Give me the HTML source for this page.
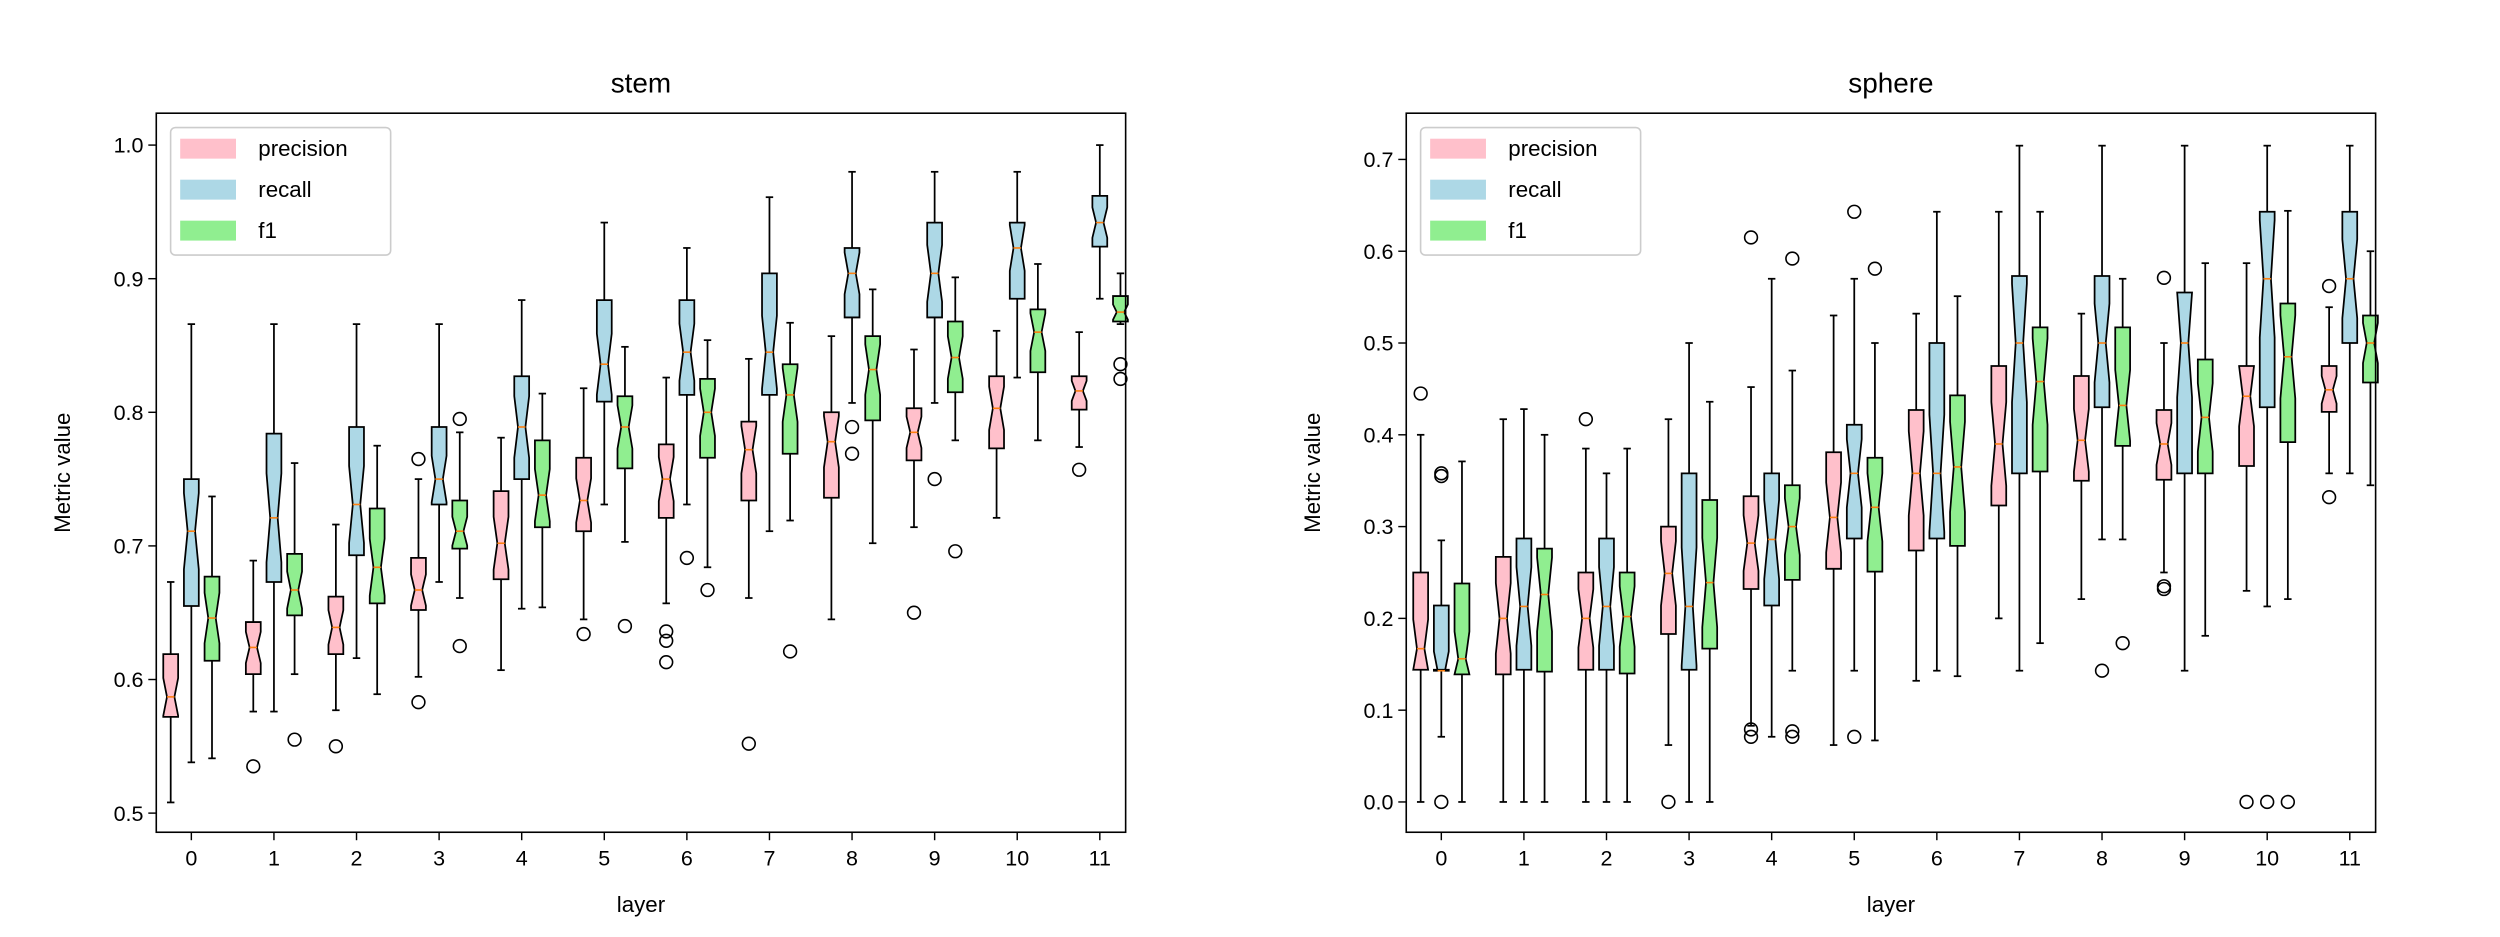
<!DOCTYPE html>
<html><head><meta charset="utf-8"><style>
html,body{margin:0;padding:0;background:#fff;}
svg{display:block;font-family:"Liberation Sans","DejaVu Sans",sans-serif;}
</style></head><body>
<svg id="fig" width="2500" height="937" viewBox="0 0 1568 587.7" xmlns="http://www.w3.org/2000/svg">
<rect width="1568" height="587.7" fill="#fff"/>
</svg>
<script>
// ---- data: [whiskerLow, q1, median, q3, whiskerHigh] per layer ----
const layers = [0,1,2,3,4,5,6,7,8,9,10,11];
const metricNames = ["precision","recall","f1"];
const stemPrecision = [[0.508,0.572,0.587,0.619,0.673],[0.576,0.604,0.624,0.643,0.689],[0.577,0.619,0.639,0.662,0.716],[0.602,0.652,0.667,0.691,0.75],[0.607,0.675,0.702,0.741,0.781],[0.645,0.711,0.734,0.766,0.818],[0.657,0.721,0.75,0.776,0.826],[0.661,0.734,0.772,0.793,0.84],[0.645,0.736,0.778,0.8,0.857],[0.714,0.764,0.785,0.803,0.847],[0.721,0.773,0.803,0.827,0.861],[0.774,0.802,0.816,0.827,0.86]];
const stemRecall = [[0.538,0.655,0.711,0.75,0.866],[0.576,0.673,0.721,0.784,0.866],[0.616,0.693,0.731,0.789,0.866],[0.673,0.731,0.75,0.789,0.866],[0.653,0.75,0.789,0.827,0.884],[0.731,0.808,0.836,0.884,0.942],[0.731,0.813,0.845,0.884,0.923],[0.711,0.813,0.845,0.904,0.961],[0.807,0.871,0.904,0.923,0.98],[0.807,0.871,0.904,0.942,0.98],[0.826,0.885,0.923,0.942,0.98],[0.885,0.924,0.942,0.962,1.0]];
const stemF1 = [[0.541,0.614,0.646,0.677,0.737],[0.604,0.648,0.667,0.694,0.762],[0.589,0.657,0.684,0.728,0.775],[0.661,0.698,0.711,0.734,0.785],[0.654,0.714,0.738,0.779,0.814],[0.703,0.758,0.789,0.812,0.849],[0.684,0.766,0.8,0.825,0.854],[0.719,0.769,0.813,0.836,0.867],[0.702,0.794,0.832,0.857,0.892],[0.779,0.815,0.841,0.868,0.901],[0.779,0.83,0.86,0.877,0.911],[0.866,0.868,0.875,0.887,0.904]];
const stemPrecisionOut = [[],[0.535],[0.55],[0.765,0.583],[],[0.634],[0.636,0.629,0.613],[0.552],[],[0.65],[],[0.757]];
const stemRecallOut = [[],[],[],[],[],[],[0.691],[],[0.789,0.769],[0.75],[],[]];
const stemF1Out = [[],[0.555],[],[0.795,0.625],[],[0.64],[0.667],[0.621],[],[0.696],[],[0.836,0.825]];

const spherePrecision = [[0,0.144,0.167,0.25,0.4],[0,0.139,0.2,0.267,0.417],[0,0.144,0.2,0.25,0.385],[0.062,0.183,0.249,0.3,0.417],[0.083,0.232,0.282,0.333,0.452],[0.062,0.254,0.31,0.381,0.53],[0.132,0.274,0.358,0.427,0.532],[0.2,0.323,0.39,0.475,0.643],[0.221,0.35,0.394,0.464,0.532],[0.25,0.351,0.39,0.427,0.5],[0.23,0.366,0.442,0.475,0.587],[0.358,0.425,0.449,0.475,0.539]];
const sphereRecall = [[0.071,0.144,0.143,0.214,0.285],[0,0.144,0.213,0.287,0.428],[0,0.144,0.213,0.287,0.358],[0,0.144,0.213,0.358,0.5],[0.071,0.214,0.286,0.358,0.57],[0.143,0.287,0.358,0.411,0.57],[0.143,0.287,0.358,0.5,0.643],[0.143,0.358,0.5,0.573,0.715],[0.286,0.43,0.5,0.573,0.715],[0.143,0.358,0.5,0.555,0.715],[0.213,0.43,0.57,0.643,0.715],[0.358,0.5,0.57,0.643,0.715]];
const sphereF1 = [[0,0.139,0.156,0.238,0.371],[0,0.142,0.226,0.276,0.4],[0,0.14,0.202,0.25,0.385],[0,0.167,0.239,0.329,0.436],[0.143,0.242,0.3,0.345,0.47],[0.067,0.251,0.321,0.375,0.5],[0.137,0.279,0.365,0.443,0.551],[0.173,0.36,0.458,0.517,0.643],[0.286,0.388,0.432,0.517,0.57],[0.181,0.358,0.419,0.482,0.587],[0.221,0.392,0.485,0.543,0.644],[0.345,0.457,0.5,0.53,0.6]];
const spherePrecisionOut = [[0.445],[],[0.417],[0],[0.079,0.071,0.615],[],[],[],[],[0.571,0.235,0.232],[0],[0.562,0.332]];
const sphereRecallOut = [[0.358,0.355,0],[],[],[],[],[0.643,0.071],[],[],[0.143],[],[0],[]];
const sphereF1Out = [[],[],[],[],[0.077,0.071,0.592],[0.581],[],[],[0.173],[],[0],[]];

const stemYTicks = [0.5,0.6,0.7,0.8,0.9,1.0];
const stemYLabels = ["0.5","0.6","0.7","0.8","0.9","1.0"];
const sphereYTicks = [0,0.1,0.2,0.3,0.4,0.5,0.6,0.7];
const sphereYLabels = ["0.0","0.1","0.2","0.3","0.4","0.5","0.6","0.7"];
const xTickLabels = ["0","1","2","3","4","5","6","7","8","9","10","11"];

const NS = "http://www.w3.org/2000/svg";
const svg = document.getElementById("fig");
const colors = ["#ffc0cb","#add8e6","#90ee90"];
function mk(tag, attrs, parent){
  const e = document.createElementNS(NS, tag);
  for (const k in attrs) e.setAttribute(k, attrs[k]);
  (parent||svg).appendChild(e);
  return e;
}

function drawChart(cfg){
  const g = mk("g", {});
  
  
  const L=cfg.left, R=cfg.right, T=71, B=522;
  const xs = v => cfg.x0 + v*cfg.dx;
  const ys = v => cfg.yA + (v - cfg.vA)*(cfg.yB - cfg.yA)/(cfg.vB - cfg.vA);
  const t = mk("text",{x:(L+R)/2,y:58,"text-anchor":"middle","font-size":17.5,fill:"#000"},g);
  t.textContent = cfg.name;
  
  
  cfg.yTicks.forEach((v,i)=>{
    const y = ys(v);
    const tk = mk("line",{x1:L-5,x2:L,y1:y,y2:y,stroke:"#000","stroke-width":0.9},g);
    
    
    const tl = mk("text",{x:L-8,y:y+4.8,"text-anchor":"end","font-size":13.5,fill:"#000"},g);
    tl.textContent = cfg.yLabels[i];
    
    
  });
  layers.forEach((v,i)=>{
    const x = xs(v);
    const tk = mk("line",{x1:x,x2:x,y1:B,y2:B+5,stroke:"#000","stroke-width":0.9},g);
    
    
    const tl = mk("text",{x:x,y:B+21,"text-anchor":"middle","font-size":13.5,fill:"#000"},g);
    tl.textContent = xTickLabels[i];
    
    
  });
  const xl = mk("text",{x:(L+R)/2,y:572,"text-anchor":"middle","font-size":14,fill:"#000"},g);
  xl.textContent = "layer";
  
  
  const yl = mk("text",{x:0,y:0,"text-anchor":"middle","font-size":14,fill:"#000",transform:`translate(${L-54},${(T+B)/2}) rotate(-90)`},g);
  yl.textContent = "Metric value";
  
  

  const bw = 0.18*cfg.dx, offs=[-0.25,0,0.25];
  cfg.series.forEach((ser,m)=>{
    ser.forEach((st,i)=>{
      const cx = xs(layers[i]+offs[m]);
      const [lo,q1,med,q3,hi] = st;
      const hw = bw/2, nw = bw/4;
      const half = 0.3*(q3-q1);
      let nlo = Math.max(med-half, Math.min(q1,med));
      let nhi = Math.min(med+half, Math.max(q3,med));
      const bg = mk("g",{},g);
      
      
      mk("line",{x1:cx,x2:cx,y1:ys(q1),y2:ys(lo),stroke:"#000","stroke-width":1.1},bg);
      mk("line",{x1:cx,x2:cx,y1:ys(q3),y2:ys(hi),stroke:"#000","stroke-width":1.1},bg);
      mk("line",{x1:cx-bw/4,x2:cx+bw/4,y1:ys(lo),y2:ys(lo),stroke:"#000","stroke-width":1.1},bg);
      mk("line",{x1:cx-bw/4,x2:cx+bw/4,y1:ys(hi),y2:ys(hi),stroke:"#000","stroke-width":1.1},bg);
      const pts = [[cx-hw,ys(q1)],[cx-hw,ys(nlo)],[cx-nw,ys(med)],[cx-hw,ys(nhi)],[cx-hw,ys(q3)],
                   [cx+hw,ys(q3)],[cx+hw,ys(nhi)],[cx+nw,ys(med)],[cx+hw,ys(nlo)],[cx+hw,ys(q1)]];
      mk("polygon",{points:pts.map(p=>p.join(",")).join(" "),fill:colors[m],stroke:"#000","stroke-width":1.1},bg);
      mk("line",{x1:cx-nw,x2:cx+nw,y1:ys(med),y2:ys(med),stroke:"#ff7f0e","stroke-width":1},bg);
      cfg.outliers[m][i].forEach(o=>{
        const c = mk("circle",{cx:cx,cy:ys(o),r:4,fill:"none",stroke:"#000","stroke-width":1},bg);
        
        
      });
    });
  });
  const fr = mk("rect",{x:L,y:T,width:R-L,height:B-T,fill:"none",stroke:"#000","stroke-width":1},g);
  
  
  const lg = mk("g",{},g);
  
  
  mk("rect",{x:L+9,y:T+9,width:138,height:80,rx:3,fill:"#fff","fill-opacity":0.8,stroke:"#ccc","stroke-width":1},lg);
  metricNames.forEach((n,k)=>{
    const e = mk("g",{},lg);
    
    
    mk("rect",{x:L+15,y:T+16+k*25.7,width:35,height:12.5,fill:colors[k]},e);
    const tx = mk("text",{x:L+64,y:T+27+k*25.7,"font-size":14,fill:"#000"},e);
    tx.textContent = n;
  });
}

drawChart({name:"stem",left:98,right:706,x0:120,dx:51.8,yA:510,vA:0.5,yB:91,vB:1.0,
  yTicks:stemYTicks,yLabels:stemYLabels,series:[stemPrecision,stemRecall,stemF1],
  outliers:[stemPrecisionOut,stemRecallOut,stemF1Out]});
drawChart({name:"sphere",left:882,right:1490,x0:904,dx:51.8,yA:503,vA:0,yB:100,vB:0.7,
  yTicks:sphereYTicks,yLabels:sphereYLabels,series:[spherePrecision,sphereRecall,sphereF1],
  outliers:[spherePrecisionOut,sphereRecallOut,sphereF1Out]});
</script>
</body></html>
